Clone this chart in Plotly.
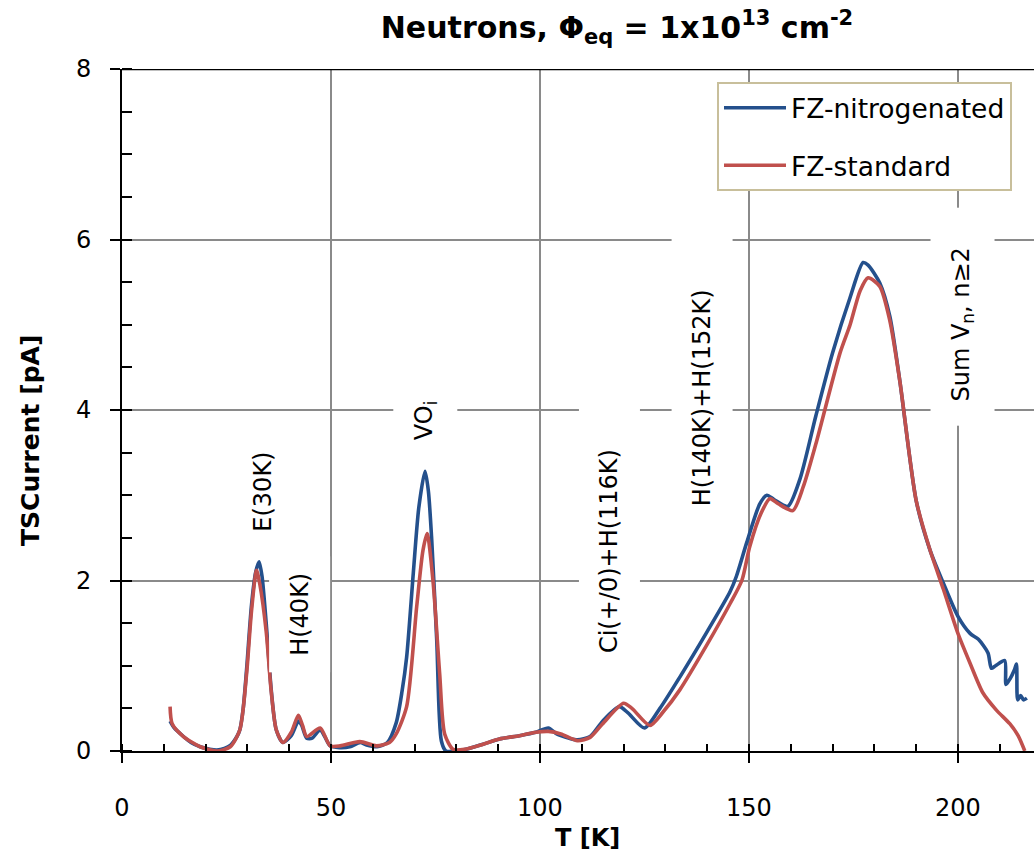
import plotly.graph_objects as go

# ---------------- data ----------------
t_nitro = [11.5, 12.5, 14.7, 16.5, 18.7, 21.0, 22.7, 24.5, 26.0, 27.5, 28.2, 29.0, 29.8, 31.0, 32.0,
           32.8, 33.5, 34.5, 35.7, 36.9, 38.5, 40.5, 42.2, 43.0, 44.2, 45.5, 47.4, 48.5, 49.8, 52.0,
           54.5, 57.0, 58.5, 61.0, 63.5, 65.6, 67.0, 68.1, 69.7, 71.0, 72.5, 73.3, 74.1, 75.3, 76.4,
           77.5, 80.0, 83.0, 86.4, 90.3, 95.1, 99.0, 102.0, 104.0, 107.0, 109.0, 112.0, 115.0, 119.0,
           121.0, 125.0, 128.7, 133.5, 140.0, 145.5, 147.0, 149.5, 152.6, 154.3, 156.0, 159.3, 162.2,
           166.0, 170.0, 174.2, 177.3, 178.5, 181.3, 183.7, 186.1, 190.0, 193.3, 196.5, 200.0, 202.9,
           204.9, 207.2, 208.0, 209.0, 211.2, 211.5, 212.5, 213.5, 214.0, 214.3, 215.0, 215.7, 216.5]
i_nitro = [0.35, 0.27, 0.17, 0.10, 0.05, 0.02, 0.01, 0.03, 0.07, 0.17, 0.25, 0.50, 0.95, 1.72, 2.10,
           2.22, 2.05, 1.50, 0.72, 0.25, 0.10, 0.18, 0.35, 0.30, 0.15, 0.15, 0.25, 0.17, 0.06, 0.04,
           0.05, 0.10, 0.07, 0.05, 0.10, 0.33, 0.70, 1.10, 2.09, 2.85, 3.28, 3.05, 2.48, 1.30, 0.12,
           0.00, 0.00, 0.03, 0.08, 0.14, 0.18, 0.22, 0.27, 0.20, 0.15, 0.13, 0.17, 0.35, 0.52,
           0.45, 0.27, 0.50, 0.87, 1.40, 1.87, 2.05, 2.45, 2.90, 3.00, 2.95, 2.87, 3.19,
           3.93, 4.67, 5.32, 5.73, 5.70, 5.49, 5.10, 4.34, 2.94, 2.36, 1.97, 1.58, 1.38,
           1.31, 1.15, 0.97, 1.00, 1.06, 0.78, 0.85, 0.95, 1.02, 0.60, 0.65, 0.60, 0.62]

t_std = [11.5, 12.0, 14.7, 18.7, 22.7, 25.9, 28.2, 29.8, 31.0, 32.2, 33.0, 34.5, 35.7, 36.9, 38.5,
         40.5, 42.2, 43.2, 44.2, 47.4, 49.8, 52.2, 56.9, 60.9, 64.0, 65.6, 68.1, 70.5, 72.0, 73.0,
         74.4, 76.0, 77.2, 79.2, 82.0, 86.4, 90.3, 95.1, 99.0, 102.0, 105.0, 109.0, 112.0, 115.0,
         120.0, 122.0, 126.3, 129.5, 133.5, 140.0, 145.5, 148.3, 150.2, 153.0, 155.0, 157.0, 160.5,
         163.0, 166.0, 171.8, 174.2, 176.6, 178.5, 181.3, 183.7, 186.1, 190.0, 193.3, 196.5, 200.0,
         202.9, 206.0, 209.2, 212.4, 214.4, 216.0]
i_std = [0.52, 0.32, 0.17, 0.05, 0.00, 0.05, 0.25, 0.90, 1.65, 2.12, 1.95, 1.40, 0.70, 0.25, 0.10,
         0.22, 0.42, 0.30, 0.17, 0.27, 0.06, 0.06, 0.11, 0.06, 0.10, 0.20, 0.52, 1.69, 2.35, 2.55,
         2.00, 0.91, 0.20, 0.02, 0.02, 0.08, 0.14, 0.18, 0.22, 0.23, 0.20, 0.12, 0.16, 0.32,
         0.56, 0.50, 0.30, 0.46, 0.72, 1.25, 1.73, 2.00, 2.40, 2.80, 2.96, 2.90, 2.82,
         3.10, 3.60, 4.67, 5.00, 5.40, 5.55, 5.45, 5.05, 4.34, 2.94, 2.36, 1.90, 1.38,
         1.03, 0.68, 0.48, 0.32, 0.18, 0.00]

series_names = ["FZ-nitrogenated", "FZ-standard"]
series_colors = ["#24508c", "#c0504d"]

x_ticks = [0, 50, 100, 150, 200]
y_ticks = [0, 2, 4, 6, 8]

label_texts = ["E(30K)", "H(40K)", "VO<sub>i</sub>",
               "Ci(+/0)+H(116K)" + "\u00a0" * 4,
               "H(140K)+H(152K)" + "\u00a0" * 6,
               "\u00a0" + "Sum V<sub>n</sub>, n\u22652" + "\u00a0" * 3]
label_t = [33.7, 42.4, 72.5, 116.7, 138.8, 201.0]
label_i = [3.04, 1.60, 3.88, 2.53, 4.41, 5.09]

X_RANGE = [0, 218.2]
Y_RANGE = [0, 8]
FONT = "DejaVu Sans"

W, H = 1034, 860
ML, MR, MT, MB = 122, 0, 69, 109
pw, ph = W - ML - MR, H - MT - MB


def px_x(p):
    return (p - ML) / pw


def px_y(p):
    return (H - MB - p) / ph


fig = go.Figure()
fig.add_trace(go.Scatter(x=t_nitro, y=i_nitro, mode="lines", name=series_names[0],
                         line=dict(color=series_colors[0], width=3.6, shape="spline", smoothing=0.7),
                         legendgroup="a"))
fig.add_trace(go.Scatter(x=t_std, y=i_std, mode="lines", name=series_names[1],
                         line=dict(color=series_colors[1], width=3.6, shape="spline", smoothing=0.7),
                         legendgroup="b"))
# empty trace to activate the overlay axes (inner half of the major ticks)
fig.add_trace(go.Scatter(x=[], y=[], xaxis="x2", yaxis="y2", showlegend=False, hoverinfo="skip"))

for txt, tx, ty in zip(label_texts, label_t, label_i):
    fig.add_annotation(x=tx, y=ty, xref="x", yref="y", text=txt, textangle=-90,
                       showarrow=False, bgcolor="white", borderpad=16,
                       font=dict(family=FONT, size=24, color="black"))

# axis titles
fig.add_annotation(x=px_x(30), y=px_y(441), xref="paper", yref="paper",
                   xanchor="center", yanchor="middle", text="<b>TSCurrent [pA]</b>",
                   showarrow=False, textangle=-90,
                   font=dict(family=FONT, size=25, color="black"))
fig.add_annotation(x=px_x(587), y=px_y(838), xref="paper", yref="paper",
                   xanchor="center", yanchor="middle", text="<b>T [K]</b>",
                   showarrow=False, font=dict(family=FONT, size=24, color="black"))

fig.add_shape(type="line", xref="paper", yref="y", x0=0, x1=1, y0=8, y1=8,
              line=dict(color="black", width=2.5))

axis_common = dict(showline=True, linecolor="black", linewidth=2, zeroline=False,
                   gridcolor="#8a8a8a", gridwidth=1.5, ticks="outside", ticklen=10,
                   tickwidth=2, tickcolor="black",
                   tickfont=dict(family=FONT, size=24, color="black"))

fig.update_layout(
    width=W, height=H,
    margin=dict(l=ML, r=MR, t=MT, b=MB),
    paper_bgcolor="white", plot_bgcolor="white",
    title=dict(text="<b>Neutrons, \u03a6<sub>eq</sub> = 1x10<sup>13</sup> cm<sup>-2</sup></b>",
               x=617 / W, xref="container", xanchor="center",
               y=1 - 27 / H, yref="container", yanchor="middle",
               font=dict(family=FONT, size=30, color="black")),
    xaxis=dict(range=X_RANGE, tickvals=x_ticks, ticklabelstandoff=24,
               minor=dict(dtick=10, ticks="inside", ticklen=7, tickwidth=2, tickcolor="black",
                          showgrid=False),
               **axis_common),
    yaxis=dict(range=Y_RANGE, tickvals=y_ticks, ticklabelstandoff=14,
               minor=dict(dtick=0.5, ticks="inside", ticklen=10, tickwidth=2, tickcolor="black",
                          showgrid=False),
               **axis_common),
    xaxis2=dict(overlaying="x", anchor="y", range=X_RANGE, tickvals=x_ticks, showgrid=False,
                showline=False, zeroline=False, showticklabels=False, ticks="inside",
                ticklen=6, tickwidth=2, tickcolor="black"),
    yaxis2=dict(overlaying="y", anchor="x", range=Y_RANGE, tickvals=y_ticks, showgrid=False,
                showline=False, zeroline=False, showticklabels=False, ticks="inside",
                ticklen=10, tickwidth=2, tickcolor="black", side="left"),
    legend=dict(x=px_x(717), y=px_y(82), xanchor="left", yanchor="top",
                bgcolor="white", bordercolor="#c8bf9b", borderwidth=2,
                font=dict(family=FONT, size=26.5, color="black"),
                traceorder="grouped", tracegroupgap=20, itemwidth=62),
    showlegend=True,
)

fig.write_html("out.html")
